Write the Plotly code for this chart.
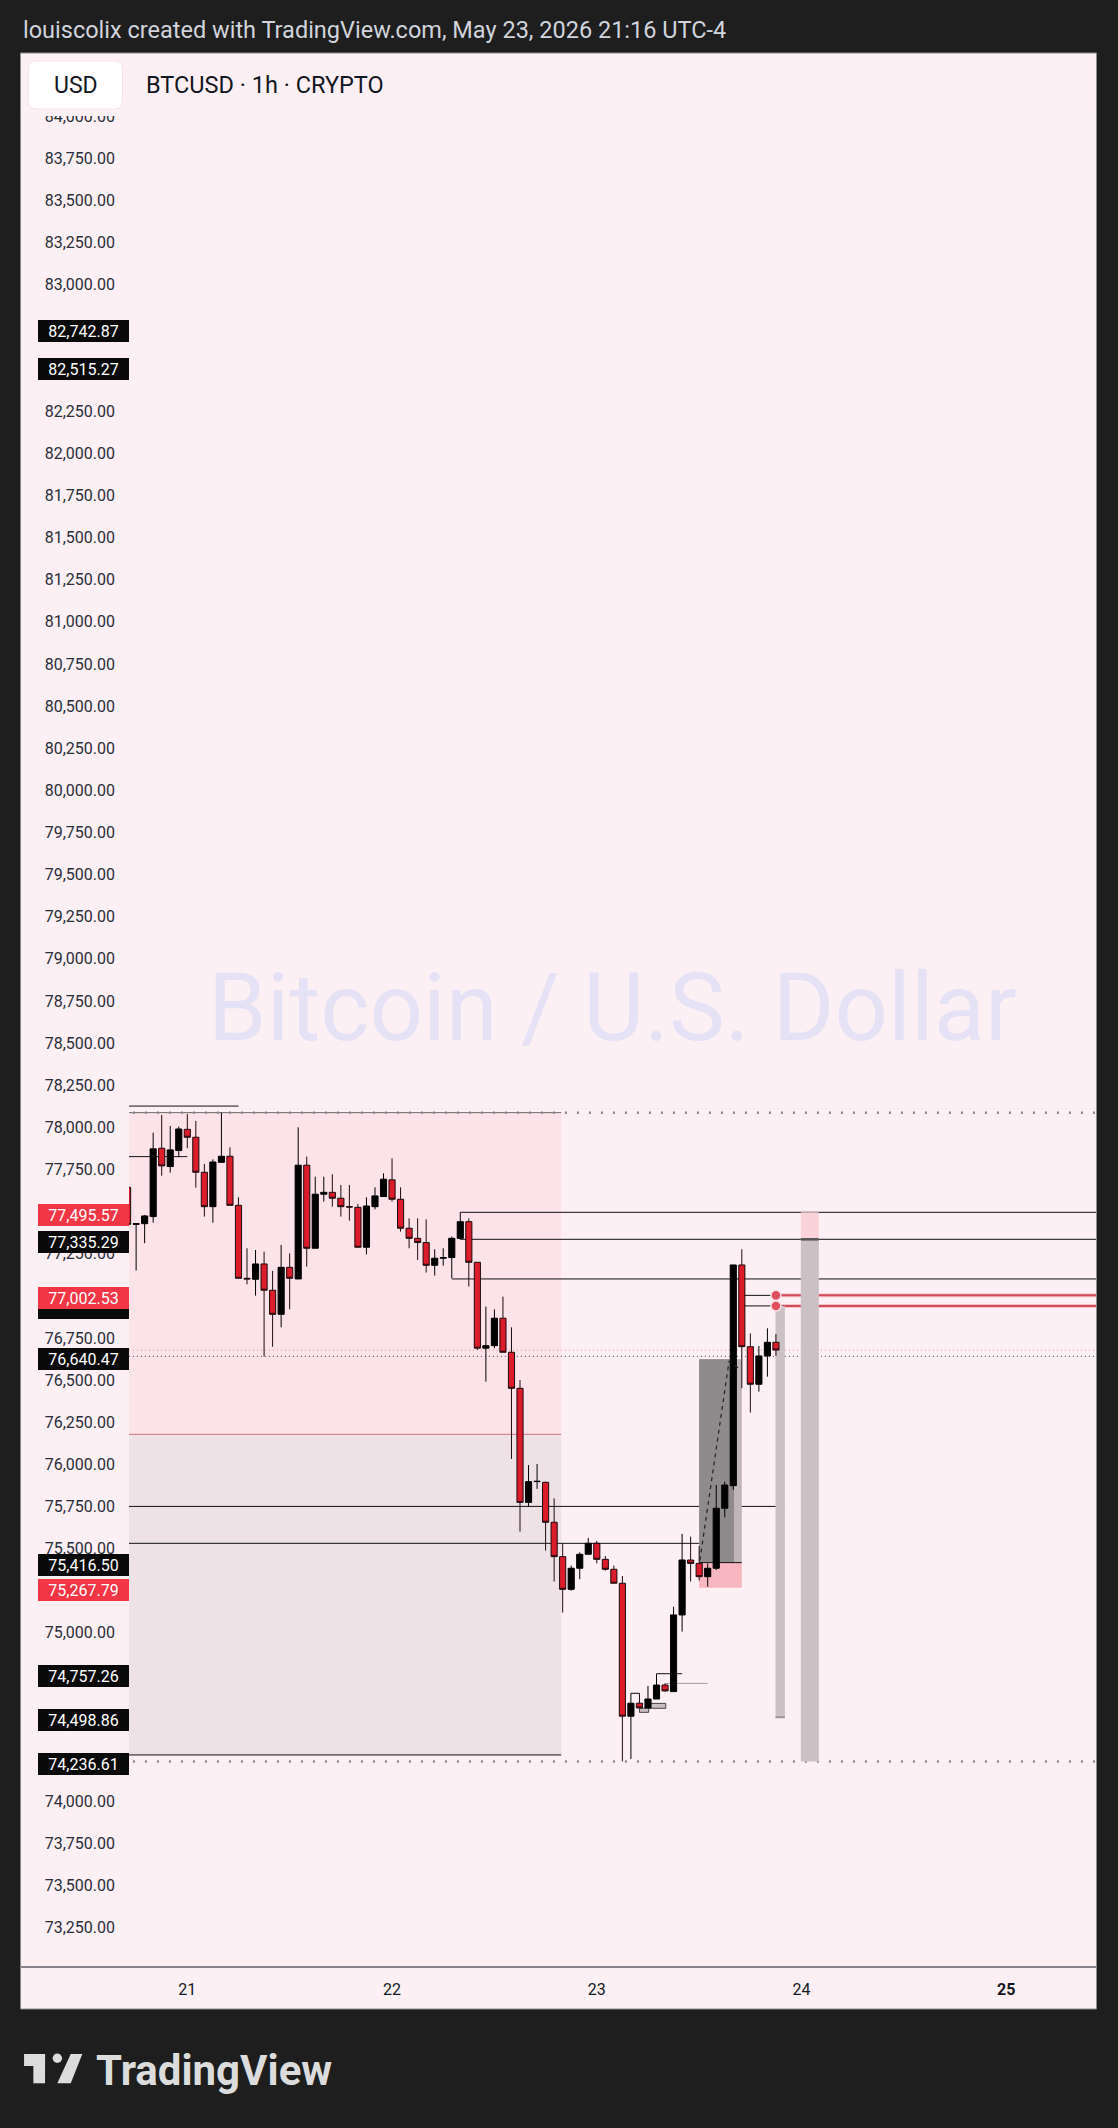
import pandas as pd
import plotly.graph_objects as go

# BTCUSD 1h candles, 2026-05-20 17:00 -> 2026-05-23 21:00 (UTC-4)
opens = [77644, 77424, 77428, 77470, 77876, 77767, 77862,
         77988, 77941, 77733, 77529, 77792, 77828, 77537, 77104, 77098, 77189, 77033, 76890,
         77169, 77100, 77775, 77282, 77603, 77614, 77579, 77529, 77525, 77288, 77529, 77589,
         77688, 77573, 77401, 77341, 77316, 77181, 77223, 77227, 77341, 77440, 77199, 76689,
         76704, 76867, 76665, 76451, 75774, 75897, 75893, 75656, 75452, 75258, 75383, 75466,
         75531, 75436, 75377, 75294, 74505, 74582, 74554, 74607, 74690, 74651, 75106, 75432,
         75412, 75333, 75383, 75739, 75873, 77183, 76698, 76475, 76643, 76724]
highs = [77660, 77430, 77480, 77968, 78073, 78008, 78004,
         78079, 78038, 77783, 77810, 78087, 77881, 77585, 77282, 77272, 77262, 77148, 77302,
         77252, 78000, 77826, 77707, 77707, 77721, 77658, 77658, 77545, 77585, 77644, 77727,
         77816, 77644, 77460, 77460, 77454, 77276, 77282, 77351, 77496, 77460, 77199, 76936,
         76920, 76995, 76813, 76500, 75996, 76002, 75897, 75798, 75531, 75399, 75478, 75563,
         75545, 75456, 75399, 75337, 74641, 74641, 74685, 74757, 74700, 75155, 75587, 75571,
         75515, 75412, 75877, 75897, 77183, 77276, 76777, 76702, 76807, 76773]
lows = [77410, 77150, 77312, 77434, 77713, 77731, 77822,
        77876, 77642, 77470, 77434, 77792, 77537, 77104, 77068, 77001, 76640, 76698, 76813,
        76920, 77100, 77173, 77282, 77559, 77529, 77470, 77446, 77288, 77246, 77513, 77589,
        77559, 77381, 77282, 77213, 77138, 77120, 77179, 77104, 77335, 77055, 76679, 76490,
        76689, 76665, 76032, 75600, 75749, 75854, 75488, 75304, 75120, 75250, 75318, 75466,
        75412, 75369, 75294, 74237, 74251, 74554, 74554, 74607, 74651, 74651, 75007, 75304,
        75310, 75274, 75373, 75685, 75848, 76451, 76307, 76431, 76520, 76643]
closes = [77424, 77428, 77474, 77872, 77771, 77866, 77990,
          77941, 77733, 77529, 77794, 77828, 77537, 77104, 77100, 77189, 77033, 76890, 77169,
          77104, 77775, 77282, 77603, 77614, 77579, 77529, 77527, 77288, 77533, 77593, 77692,
          77573, 77401, 77341, 77316, 77181, 77223, 77227, 77341, 77440, 77199, 76689, 76704,
          76867, 76665, 76451, 75774, 75897, 75899, 75656, 75452, 75258, 75383, 75466, 75531,
          75436, 75377, 75294, 74505, 74582, 74554, 74607, 74690, 74655, 75106, 75432, 75412,
          75333, 75383, 75739, 75877, 77183, 76698, 76475, 76643, 76724, 76678]
times = pd.date_range("2026-05-20 17:00", periods=len(opens), freq="h")

# price scale ticks that stay visible (the others sit under the price labels)
price_ticks = [73250, 73500, 73750, 74000, 75000, 75500, 75750, 76000, 76250, 76500, 76750,
               77250, 77750, 78000, 78250, 78500, 78750, 79000, 79250, 79500, 79750, 80000,
               80250, 80500, 80750, 81000, 81250, 81500, 81750, 82000, 82250, 83000, 83250,
               83500, 83750, 84000]

# price-scale labels (value, colour); the one under 77,002.53 is hidden
label_prices = [82742.87, 82515.27, 77495.57, 77335.29, 76940.00, 77002.53,
                76640.47, 75416.50, 75267.79, 74757.26, 74498.86, 74236.61]
label_kinds = ["black", "black", "red", "black", "hidden", "red",
               "black", "black", "red", "black", "black", "black"]

# drawn levels: (price, start, end)
solid_levels = [
    (78126, "2026-05-20 12:00", "2026-05-21 06:00"),
    (77826, "2026-05-20 12:00", "2026-05-21 00:00"),
    (77495.57, "2026-05-22 08:00", "2026-05-26 00:00"),
    (77335.29, "2026-05-22 08:00", "2026-05-26 00:00"),
    (77100, "2026-05-22 07:00", "2026-05-26 00:00"),
    (75750, "2026-05-20 12:00", "2026-05-23 22:00"),
    (75531, "2026-05-20 12:00", "2026-05-23 16:00"),
    (74757.26, "2026-05-23 07:00", "2026-05-23 10:00"),
    (74641, "2026-05-23 04:00", "2026-05-23 05:00"),
]
red_levels = [77002.53, 76940.00]
red_from = "2026-05-23 21:00"

# range box on the left
box_start, box_end = "2026-05-20 12:00", "2026-05-22 19:50"
box_top, box_mid, box_bottom = 78087, 76178, 74275
swing_low = 74236.61
last_price, marked_low = 76678, 76640.47

# position tool
pos_start, pos_mid, pos_end = "2026-05-23 12:00", "2026-05-23 16:05", "2026-05-23 17:00"
pos_entry, pos_stop, pos_target = 75416.50, 75267.79, 76623
path_x = ["2026-05-23 12:05", "2026-05-23 15:30", "2026-05-23 16:55"]
path_y = [75430, 76610, 76560]

BG = "#fdf0f4"
L, R, T, B = 129, 1096.5, 53, 1967


def pxx(x):
    return (x - L) / (R - L)


def pxy(y):
    return (B - y) / (B - T)


def rounded_rect(x0, y0, x1, y1, r):
    pts = [("M", x0 + r, y0), ("L", x1 - r, y0), ("Q", x1, y0, x1, y0 + r),
           ("L", x1, y1 - r), ("Q", x1, y1, x1 - r, y1), ("L", x0 + r, y1),
           ("Q", x0, y1, x0, y1 - r), ("L", x0, y0 + r), ("Q", x0, y0, x0 + r, y0)]
    out = ""
    for p in pts:
        nums = p[1:]
        seg = []
        for i in range(0, len(nums), 2):
            seg.append(f"{pxx(nums[i]):.5f},{pxy(nums[i + 1]):.5f}")
        out += p[0] + " " + " ".join(seg) + " "
    return out + "Z"


shapes = []

# chart frame and the time-scale separator across the price scale too
shapes.append(dict(type="rect", xref="paper", yref="paper", x0=pxx(20.5), x1=pxx(1097), y0=pxy(53),
                   y1=pxy(2009), fillcolor=BG, line=dict(color="#8c8c8c", width=1), layer="below"))
shapes.append(dict(type="line", xref="paper", yref="paper", x0=pxx(21), x1=pxx(1096.5), y0=0, y1=0,
                   line=dict(color="#131722", width=1), layer="above"))

# range box
shapes.append(dict(type="rect", x0=box_start, x1=box_end, y0=box_mid, y1=box_top,
                   fillcolor="#fce3ea", line=dict(width=0), layer="below"))
shapes.append(dict(type="rect", x0=box_start, x1=box_end, y0=box_bottom, y1=box_mid,
                   fillcolor="#efe2e6", line=dict(width=0), layer="below"))
shapes.append(dict(type="line", x0=box_start, x1=box_end, y0=box_mid, y1=box_mid,
                   line=dict(color="#c8737d", width=1), layer="below"))
shapes.append(dict(type="line", x0=box_start, x1=box_end, y0=box_top, y1=box_top,
                   line=dict(color="#6a6a6a", width=1), layer="below"))
shapes.append(dict(type="line", x0=box_start, x1=box_end, y0=box_bottom, y1=box_bottom,
                   line=dict(color="#111111", width=1), layer="below"))
for lvl in [box_top, swing_low]:
    shapes.append(dict(type="line", x0="2026-05-20 12:00", x1="2026-05-26", y0=lvl, y1=lvl,
                       line=dict(color="#8a8a8a", width=2.5, dash="2px,10px"), layer="below"))
shapes.append(dict(type="line", x0="2026-05-20 12:00", x1="2026-05-26", y0=last_price, y1=last_price,
                   line=dict(color="#d98c7a", width=1, dash="1px,3px"), layer="below"))
shapes.append(dict(type="line", x0="2026-05-20 12:00", x1="2026-05-26", y0=marked_low, y1=marked_low,
                   line=dict(color="#444444", width=1, dash="1px,3px"), layer="below"))

for lvl, a, b in solid_levels:
    shapes.append(dict(type="line", x0=a, x1=b, y0=lvl, y1=lvl,
                       line=dict(color="#111111", width=1), layer="below"))
shapes.append(dict(type="line", x0="2026-05-23 08:00", x1="2026-05-23 13:00", y0=74700, y1=74700,
                   line=dict(color="#9a9a9a", width=1), layer="below"))

# small gray boxes near the low
shapes.append(dict(type="rect", x0="2026-05-23 05:00", x1="2026-05-23 06:05", y0=74528, y1=74552,
                   fillcolor="#c9bec2", line=dict(color="#444", width=1), layer="below"))
shapes.append(dict(type="rect", x0="2026-05-23 06:05", x1="2026-05-23 08:05", y0=74552, y1=74581,
                   fillcolor="#c9bec2", line=dict(color="#444", width=1), layer="below"))

# position tool
shapes.append(dict(type="rect", x0=pos_start, x1=pos_end, y0=pos_entry, y1=pos_target,
                   fillcolor="#bfb5b9", line=dict(width=0), layer="below"))
shapes.append(dict(type="rect", x0=pos_start, x1=pos_mid, y0=pos_entry, y1=pos_target,
                   fillcolor="#8f8a8c", line=dict(width=0), layer="below"))
shapes.append(dict(type="rect", x0=pos_start, x1=pos_end, y0=pos_stop, y1=pos_entry,
                   fillcolor="#f8b7c0", line=dict(width=0), layer="below"))
shapes.append(dict(type="line", x0=pos_start, x1=pos_end, y0=pos_entry, y1=pos_entry,
                   line=dict(color="#111111", width=1), layer="below"))

# red levels: short black lead-in then red to the edge
for lvl in red_levels:
    shapes.append(dict(type="line", x0="2026-05-23 17:00", x1="2026-05-23 20:45", y0=lvl, y1=lvl,
                       line=dict(color="#111111", width=1), layer="below"))
    shapes.append(dict(type="line", x0=red_from, x1="2026-05-26", y0=lvl, y1=lvl,
                       line=dict(color="#f4c3ca", width=4), layer="below"))
    shapes.append(dict(type="line", x0=red_from, x1="2026-05-26", y0=lvl, y1=lvl,
                       line=dict(color="#d24b5a", width=2), layer="below"))

# vertical bars on the right
shapes.append(dict(type="rect", x0="2026-05-23 20:57", x1="2026-05-23 22:03", y0=74498.86, y1=76940,
                   fillcolor="#ccc1c5", line=dict(width=0), layer="below"))
shapes.append(dict(type="line", x0="2026-05-23 20:57", x1="2026-05-23 22:03", y0=74498.86, y1=74498.86,
                   line=dict(color="#9c9396", width=2), layer="below"))
shapes.append(dict(type="rect", x0="2026-05-23 23:55", x1="2026-05-24 02:02", y0=swing_low, y1=77335.29,
                   fillcolor="#cbc0c4", line=dict(width=0), layer="below"))
shapes.append(dict(type="rect", x0="2026-05-23 23:55", x1="2026-05-24 02:02", y0=77335.29, y1=77495.57,
                   fillcolor="#fad3da", line=dict(width=0), layer="below"))
shapes.append(dict(type="line", x0="2026-05-23 23:55", x1="2026-05-24 02:02", y0=77335.29, y1=77335.29,
                   line=dict(color="#555555", width=2.5), layer="below"))

# header cover over the price scale, USD box
shapes.append(dict(type="rect", xref="paper", yref="paper", x0=pxx(21), x1=pxx(1096), y0=pxy(116),
                   y1=pxy(54), fillcolor=BG, line=dict(width=0), layer="above"))
shapes.append(dict(type="path", xref="paper", yref="paper", path=rounded_rect(28.5, 61, 122.5, 109, 8),
                   fillcolor="#ffffff", line=dict(color="#f4e4e9", width=1), layer="above"))

# TradingView logo glyph
shapes.append(dict(type="rect", xref="paper", yref="paper", x0=pxx(24), x1=pxx(45), y0=pxy(2066),
                   y1=pxy(2054), fillcolor="#dcdcdc", line=dict(width=0)))
shapes.append(dict(type="rect", xref="paper", yref="paper", x0=pxx(33.3), x1=pxx(45), y0=pxy(2083.3),
                   y1=pxy(2054), fillcolor="#dcdcdc", line=dict(width=0)))
shapes.append(dict(type="circle", xref="paper", yref="paper", x0=pxx(52.6), x1=pxx(62), y0=pxy(2063),
                   y1=pxy(2053.6), fillcolor="#dcdcdc", line=dict(width=0)))
shapes.append(dict(type="path", xref="paper", yref="paper",
                   path=f"M {pxx(70.7)},{pxy(2054)} L {pxx(82.3)},{pxy(2054)} L {pxx(70.7)},{pxy(2083.3)} "
                        f"L {pxx(57.3)},{pxy(2083.3)} Z",
                   fillcolor="#dcdcdc", line=dict(width=0)))

fig = go.Figure()

fig.add_trace(go.Scatter(x=path_x, y=path_y, mode="lines", line=dict(color="#222222", width=1.2, dash="4px,4px"),
                         hoverinfo="skip", showlegend=False))

fig.add_trace(go.Candlestick(
    x=times, open=opens, high=highs, low=lows, close=closes,
    increasing=dict(line=dict(color="#000000", width=1), fillcolor="#000000"),
    decreasing=dict(line=dict(color="#1c0b0d", width=1), fillcolor="#dc1b2b"),
    whiskerwidth=0, hoverinfo="skip", showlegend=False))

fig.add_trace(go.Scatter(x=[red_from] * len(red_levels), y=red_levels, mode="markers",
                         marker=dict(size=10, color="#e0505f", line=dict(color="#fbe3e7", width=1.5)),
                         hoverinfo="skip", showlegend=False))

annotations = []
for price, kind in zip(label_prices, label_kinds):
    bg = "#f23645" if kind == "red" else "#0a0a0a"
    txt = " " if kind == "hidden" else f"{price:,.2f}"
    annotations.append(dict(xref="paper", yref="y", x=0, y=price, xanchor="right", yanchor="middle",
                            yshift=-2.5, text=txt, showarrow=False, width=91, height=22, borderpad=0,
                            borderwidth=0, bgcolor=bg, align="center",
                            font=dict(family="Roboto", size=16, color="#ffffff")))

annotations += [
    dict(xref="paper", yref="paper", x=pxx(21), y=pxy(30), xanchor="left", yanchor="middle",
         text="louiscolix created with TradingView.com, May 23, 2026 21:16 UTC-4", showarrow=False,
         font=dict(family="Roboto", size=23.5, color="#d1d4dc")),
    dict(xref="paper", yref="paper", x=pxx(75.5), y=pxy(85), xanchor="center", yanchor="middle",
         text="USD", showarrow=False, font=dict(family="Roboto", size=23, color="#131722")),
    dict(xref="paper", yref="paper", x=pxx(144), y=pxy(85), xanchor="left", yanchor="middle",
         text="BTCUSD · 1h · CRYPTO", showarrow=False, font=dict(family="Roboto", size=23.5, color="#131722")),
    dict(xref="paper", yref="paper", x=0.5, y=pxy(1008), xanchor="center", yanchor="middle",
         text="Bitcoin / U.S. Dollar", showarrow=False, font=dict(family="Roboto", size=94, color="#e6e2f6")),
    dict(xref="paper", yref="paper", x=pxx(94), y=pxy(2070), xanchor="left", yanchor="middle",
         text="<b>TradingView</b>", showarrow=False, font=dict(family="Roboto", size=42, color="#dcdcdc")),
]

day_ticks = ["2026-05-21", "2026-05-22", "2026-05-23", "2026-05-24", "2026-05-25"]
day_text = ["21", "22", "23", "24", "<b>25</b>"]

fig.update_layout(
    width=1118, height=2128,
    margin=dict(l=L, r=1118 - R, t=T, b=2128 - B),
    paper_bgcolor="#1e1e1e", plot_bgcolor=BG,
    boxgap=0.28, boxgroupgap=0,
    shapes=shapes, annotations=annotations,
    font=dict(family="Roboto"),
    xaxis=dict(type="date", range=["2026-05-20 17:10", "2026-05-25 10:31"], showgrid=False,
               rangeslider=dict(visible=False), tickvals=day_ticks, ticktext=day_text, ticks="",
               showline=False, zeroline=False,
               tickfont=dict(family="Roboto", size=16, color="#131722"), ticklabelstandoff=11),
    yaxis=dict(range=[73016.6, 84375.7], showgrid=False, zeroline=False, tickvals=price_ticks,
               tickformat=",.2f", ticks="", side="left",
               tickfont=dict(family="Roboto", size=16, color="#2a2e39"), ticklabelstandoff=13),
)

# the page body has a default 8px margin; drop it so the figure sits at the top-left corner
fig.write_html("out.html", config={"displayModeBar": False},
               post_script="document.body.style.margin='0';"
                           "document.body.style.background='#1e1e1e';")
